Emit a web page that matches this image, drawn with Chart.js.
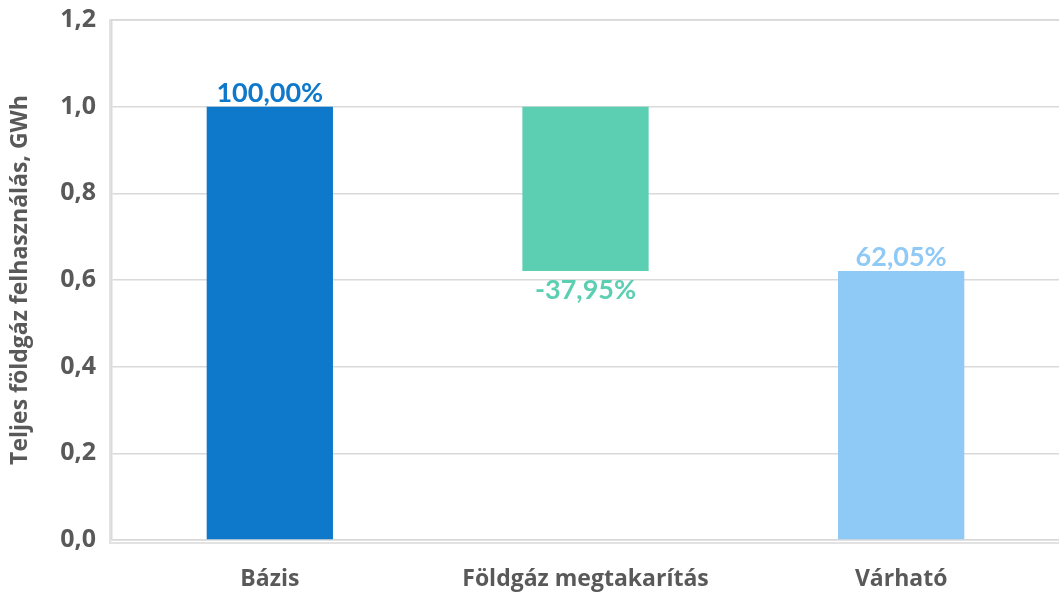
<!DOCTYPE html>
<html>
<head>
<meta charset="utf-8">
<script src="https://cdn.jsdelivr.net/npm/chart.js@4"></script>
<style>
  html, body { margin: 0; padding: 0; background: #fff; }
  #wrap { width: 1059px; height: 592px; }
</style>
</head>
<body>
<div id="wrap"><canvas id="chart"></canvas></div>
<script>
const categories = ['Bázis', 'Földgáz megtakarítás', 'Várható'];
const barStart = [0, 0.6205, 0];
const barEnd = [1.0, 1.0, 0.6205];
const pctLabels = ['100,00%', '-37,95%', '62,05%'];
const barColors = ['#0E78CB', '#5CCFB2', '#8FC9F5'];
const yTicks = ['0,0', '0,2', '0,4', '0,6', '0,8', '1,0', '1,2'];

const grey = '#595959';

// data labels: above the bar, or below it for the negative step
const labelPlugin = {
  id: 'barLabels',
  afterDatasetsDraw(chart) {
    const ctx = chart.ctx;
    const meta = chart.getDatasetMeta(0);
    ctx.save();
    ctx.font = 'bold 27px Lato';
    ctx.textAlign = 'center';
    meta.data.forEach((bar, i) => {
      ctx.fillStyle = barColors[i];
      if (pctLabels[i].startsWith('-')) {
        ctx.textBaseline = 'top';
        ctx.fillText(pctLabels[i], bar.x, bar.base + 6);
      } else {
        ctx.textBaseline = 'bottom';
        ctx.fillText(pctLabels[i], bar.x, bar.y);
      }
    });
    ctx.restore();
  }
};

// light frame round the plot area
const framePlugin = {
  id: 'frame',
  beforeDatasetsDraw(chart) {
    const a = chart.chartArea;
    const ctx = chart.ctx;
    ctx.save();
    ctx.strokeStyle = '#d9d9d9';
    ctx.lineWidth = 1.5;
    ctx.strokeRect(a.left - 2, a.top, a.right - a.left + 4, a.bottom - a.top + 3);
    ctx.restore();
  }
};

new Chart(document.getElementById('chart'), {
  type: 'bar',
  data: {
    labels: categories,
    datasets: [{
      data: barStart.map((s, i) => [s, barEnd[i]]),
      backgroundColor: barColors,
      borderWidth: 0,
      categoryPercentage: 1,
      barPercentage: 0.4
    }]
  },
  options: {
    responsive: true,
    maintainAspectRatio: false,
    animation: false,
    layout: { padding: { top: 0, right: 0, left: 0, bottom: 0 } },
    plugins: {
      legend: { display: false },
      tooltip: { enabled: false }
    },
    scales: {
      x: {
        grid: { display: false },
        border: { display: true, color: '#d9d9d9', width: 1.5 },
        ticks: {
          color: grey,
          font: { family: 'Open Sans', weight: 'bold', size: 23 },
          padding: 18
        },
        afterFit(scale) { scale.height = 52; }
      },
      y: {
        min: 0,
        max: 1.2,
        grid: { color: '#d9d9d9', lineWidth: 1.5, drawTicks: false },
        border: { display: true, color: '#d9d9d9', width: 1.5 },
        ticks: {
          stepSize: 0.2,
          color: grey,
          font: { family: 'Open Sans', weight: 'bold', size: 25 },
          padding: 16,
          callback: (v, i) => yTicks[i]
        },
        title: {
          display: true,
          text: 'Teljes földgáz felhasználás, GWh',
          color: grey,
          font: { family: 'Open Sans', weight: 'bold', size: 23 },
          padding: { top: 7, bottom: 0 }
        },
        afterFit(scale) {
          scale.width = 112;
          scale.paddingTop = 20;
        }
      }
    }
  },
  plugins: [framePlugin, labelPlugin]
});
</script>
</body>
</html>
